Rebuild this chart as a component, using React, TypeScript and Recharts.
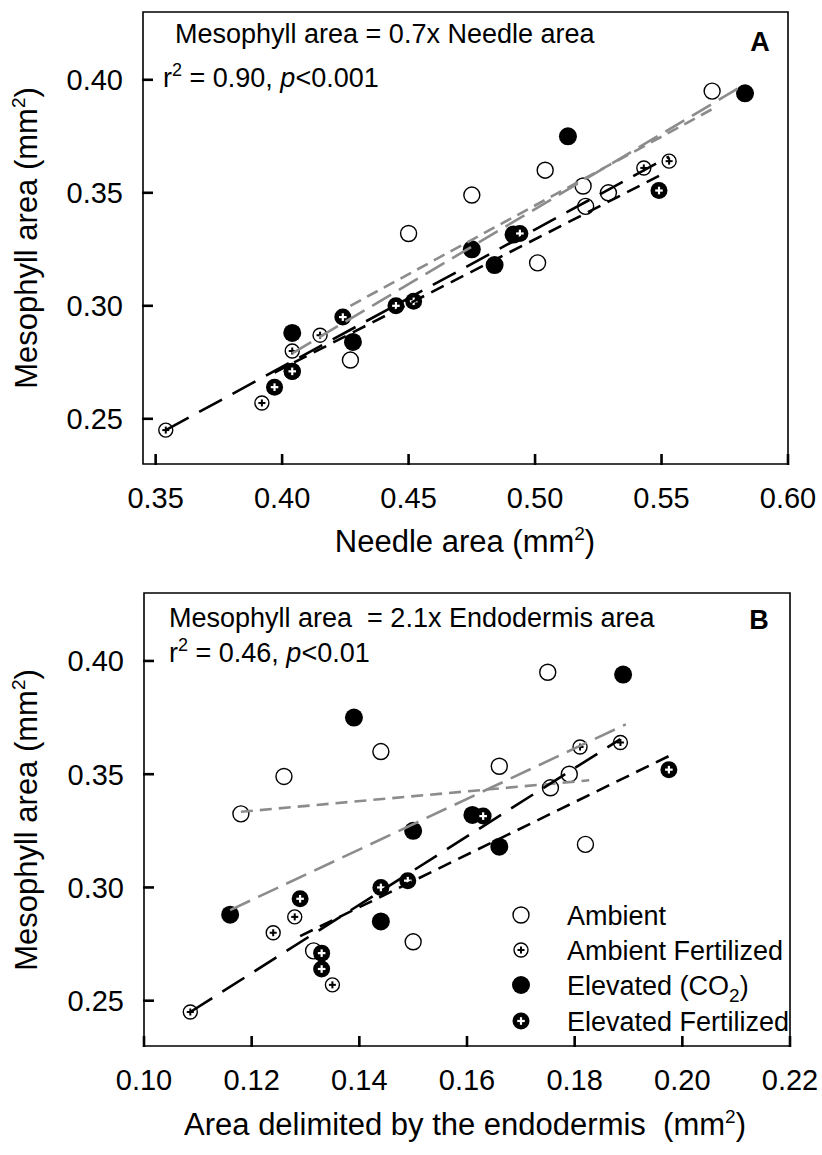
import React from 'react';
import { ScatterChart, Scatter, XAxis, YAxis, ReferenceArea } from 'recharts';

const FONT = '"Liberation Sans", Arial, Helvetica, sans-serif';
const GRAY = '#8c8c8c';

// ---------- Panel A: needle area (x) vs mesophyll area (y), mm2 ----------
const ambientA = [
  { x: 0.570, y: 0.395 }, { x: 0.504, y: 0.360 }, { x: 0.475, y: 0.349 }, { x: 0.519, y: 0.353 },
  { x: 0.529, y: 0.350 }, { x: 0.520, y: 0.344 }, { x: 0.450, y: 0.332 }, { x: 0.501, y: 0.319 },
  { x: 0.427, y: 0.276 }, { x: 0.404, y: 0.271 },
];
const ambFertA = [
  { x: 0.553, y: 0.364 }, { x: 0.543, y: 0.361 }, { x: 0.415, y: 0.287 }, { x: 0.404, y: 0.280 },
  { x: 0.392, y: 0.257 }, { x: 0.354, y: 0.245 },
];
const elevA = [
  { x: 0.583, y: 0.394 }, { x: 0.513, y: 0.375 }, { x: 0.475, y: 0.325 }, { x: 0.484, y: 0.318 },
  { x: 0.404, y: 0.288 }, { x: 0.428, y: 0.284 }, { x: 0.4915, y: 0.3315 },
];
const elevFertA = [
  { x: 0.549, y: 0.351 }, { x: 0.494, y: 0.332 }, { x: 0.452, y: 0.302 }, { x: 0.445, y: 0.300 },
  { x: 0.424, y: 0.295 }, { x: 0.404, y: 0.271 }, { x: 0.397, y: 0.264 },
];
const ambLineA = [{ x: 0.427, y: 0.300 }, { x: 0.570, y: 0.387 }];
const elevLineA = [{ x: 0.404, y: 0.279 }, { x: 0.583, y: 0.398 }];
const ambFertLineA = [{ x: 0.354, y: 0.245 }, { x: 0.553, y: 0.366 }];
const elevFertLineA = [{ x: 0.397, y: 0.2705 }, { x: 0.549, y: 0.3575 }];

// ---------- Panel B: endodermis area (x) vs mesophyll area (y), mm2 ----------
const ambientB = [
  { x: 0.175, y: 0.395 }, { x: 0.144, y: 0.360 }, { x: 0.126, y: 0.349 }, { x: 0.118, y: 0.3325 },
  { x: 0.166, y: 0.3535 }, { x: 0.179, y: 0.350 }, { x: 0.1755, y: 0.344 }, { x: 0.182, y: 0.319 },
  { x: 0.150, y: 0.276 }, { x: 0.1315, y: 0.272 },
];
const ambFertB = [
  { x: 0.1885, y: 0.364 }, { x: 0.181, y: 0.362 }, { x: 0.128, y: 0.287 }, { x: 0.124, y: 0.280 },
  { x: 0.135, y: 0.257 }, { x: 0.1086, y: 0.245 },
];
const elevB = [
  { x: 0.139, y: 0.375 }, { x: 0.189, y: 0.394 }, { x: 0.150, y: 0.325 }, { x: 0.161, y: 0.332 },
  { x: 0.166, y: 0.318 }, { x: 0.144, y: 0.285 }, { x: 0.116, y: 0.288 },
];
const elevFertB = [
  { x: 0.1975, y: 0.352 }, { x: 0.163, y: 0.3315 }, { x: 0.149, y: 0.303 }, { x: 0.144, y: 0.300 },
  { x: 0.129, y: 0.295 }, { x: 0.133, y: 0.271 }, { x: 0.133, y: 0.264 },
];
const ambLineB = [{ x: 0.118, y: 0.3334 }, { x: 0.1827, y: 0.3473 }];
const elevLineB = [{ x: 0.116, y: 0.290 }, { x: 0.1895, y: 0.372 }];
const ambFertLineB = [{ x: 0.1086, y: 0.245 }, { x: 0.1885, y: 0.3655 }];
const elevFertLineB = [{ x: 0.129, y: 0.2785 }, { x: 0.1975, y: 0.358 }];

// ---------- axes ----------
const xDomainA = [0.345, 0.6];
const xDomainB = [0.1, 0.22];
const yDomain = [0.23, 0.43];
const xTicksA = [0.35, 0.4, 0.45, 0.5, 0.55, 0.6];
const xTicksB = [0.1, 0.12, 0.14, 0.16, 0.18, 0.2, 0.22];
const yTicks = [0.25, 0.3, 0.35, 0.4];
const legendLabels = ['Ambient', 'Ambient Fertilized', 'Elevated (CO', 'Elevated Fertilized'];

// ---------- marker shapes ----------
const AmbientDot = (p: any) => (
  <circle cx={p.cx} cy={p.cy} r={8} fill="#fff" stroke="#000" strokeWidth={1.4} />
);
const AmbFertDot = (p: any) => (
  <g>
    <circle cx={p.cx} cy={p.cy} r={7} fill="#fff" stroke="#000" strokeWidth={1.4} />
    <line x1={p.cx - 3.5} x2={p.cx + 3.5} y1={p.cy} y2={p.cy} stroke="#000" strokeWidth={2} />
    <line x1={p.cx} x2={p.cx} y1={p.cy - 3.5} y2={p.cy + 3.5} stroke="#000" strokeWidth={2} />
  </g>
);
const ElevDot = (p: any) => <circle cx={p.cx} cy={p.cy} r={9} fill="#000" />;
const ElevFertDot = (p: any) => (
  <g>
    <circle cx={p.cx} cy={p.cy} r={8.5} fill="#000" />
    <line x1={p.cx - 3.8} x2={p.cx + 3.8} y1={p.cy} y2={p.cy} stroke="#fff" strokeWidth={2.2} />
    <line x1={p.cx} x2={p.cx} y1={p.cy - 3.8} y2={p.cy + 3.8} stroke="#fff" strokeWidth={2.2} />
  </g>
);
const NoDot = () => <g />;
const legendShapes = [AmbientDot, AmbFertDot, ElevDot, ElevFertDot];

// ---------- ticks ----------
const XTick = (props: any) => {
  const { x, y, payload } = props;
  return (
    <g>
      <line x1={x} x2={x} y1={y + 1} y2={y - 10} stroke="#000" strokeWidth={2.6} />
      <text x={x} y={y + 44} textAnchor="middle" fontSize={29} fontFamily={FONT} fill="#000">
        {Number(payload.value).toFixed(2)}
      </text>
    </g>
  );
};
const YTick = (props: any) => {
  const { x, y, payload } = props;
  return (
    <g>
      <line x1={x - 1} x2={x + 10} y1={y} y2={y} stroke="#000" strokeWidth={2.6} />
      <text x={x - 20} y={y + 10.5} textAnchor="end" fontSize={29} fontFamily={FONT} fill="#000">
        {Number(payload.value).toFixed(2)}
      </text>
    </g>
  );
};

const lineStyle = (stroke: string, dash: string) => ({
  stroke,
  strokeWidth: 2.6,
  strokeDasharray: dash,
  strokeLinecap: 'butt' as const,
});

type PanelProps = {
  xDomain: number[];
  xTicks: number[];
  amb: any[]; ambF: any[]; elev: any[]; elevF: any[];
  ambL: any[]; elevL: any[]; ambFL: any[]; elevFL: any[];
  height: number; top: number; left: number; right: number; xAxisH: number;
};

const Panel = (p: PanelProps) => (
  <ScatterChart
    width={822}
    height={p.height}
    margin={{ top: p.top, right: p.right, bottom: 0, left: 0 }}
  >
    <XAxis
      type="number"
      dataKey="x"
      domain={p.xDomain}
      ticks={p.xTicks}
      interval={0}
      allowDataOverflow
      axisLine={false}
      tickLine={false}
      tickSize={0}
      tickMargin={0}
      height={p.xAxisH}
      tick={<XTick />}
    />
    <YAxis
      type="number"
      dataKey="y"
      domain={yDomain}
      ticks={yTicks}
      interval={0}
      allowDataOverflow
      axisLine={false}
      tickLine={false}
      tickSize={0}
      tickMargin={0}
      width={p.left}
      tick={<YTick />}
    />
    <ReferenceArea
      x1={p.xDomain[0]}
      x2={p.xDomain[1]}
      y1={yDomain[0]}
      y2={yDomain[1]}
      fill="none"
      fillOpacity={0}
      stroke="#000"
      strokeWidth={1.6}
      ifOverflow="visible"
    />
    <Scatter data={p.amb} shape={AmbientDot} isAnimationActive={false} />
    <Scatter data={p.ambF} shape={AmbFertDot} isAnimationActive={false} />
    <Scatter data={p.elev} shape={ElevDot} isAnimationActive={false} />
    <Scatter data={p.elevF} shape={ElevFertDot} isAnimationActive={false} />
    <Scatter data={p.ambL} shape={NoDot} line={lineStyle(GRAY, '12 7')} isAnimationActive={false} />
    <Scatter data={p.elevL} shape={NoDot} line={lineStyle(GRAY, '22 9')} isAnimationActive={false} />
    <Scatter data={p.ambFL} shape={NoDot} line={lineStyle('#000', '26 12')} isAnimationActive={false} />
    <Scatter data={p.elevFL} shape={NoDot} line={lineStyle('#000', '14 8')} isAnimationActive={false} />
  </ScatterChart>
);

export default function App() {
  const txt = { fontFamily: FONT, fill: '#000' } as const;
  return (
    <div style={{ position: 'absolute', left: 0, top: 0, width: 822, height: 1155, background: '#fff' }}>
      <div style={{ position: 'absolute', left: 0, top: 0 }}>
        <Panel
          xDomain={xDomainA} xTicks={xTicksA}
          amb={ambientA} ambF={ambFertA} elev={elevA} elevF={elevFertA}
          ambL={ambLineA} elevL={elevLineA} ambFL={ambFertLineA} elevFL={elevFertLineA}
          height={580} top={12} left={143} right={34} xAxisH={116}
        />
      </div>
      <div style={{ position: 'absolute', left: 0, top: 580 }}>
        <Panel
          xDomain={xDomainB} xTicks={xTicksB}
          amb={ambientB} ambF={ambFertB} elev={elevB} elevF={elevFertB}
          ambL={ambLineB} elevL={elevLineB} ambFL={ambFertLineB} elevFL={elevFertLineB}
          height={575} top={13} left={144} right={32} xAxisH={109}
        />
      </div>
      <svg
        width={822}
        height={1155}
        style={{ position: 'absolute', left: 0, top: 0, pointerEvents: 'none' }}
      >
        {/* Panel A annotations */}
        <text x={175} y={43} fontSize={27} {...txt} style={{ whiteSpace: 'pre' }}>
          Mesophyll area = 0.7x Needle area
        </text>
        <text x={163} y={87} fontSize={27} {...txt}>
          r<tspan dy={-11} fontSize={18}>2</tspan>
          <tspan dy={11}>{' = 0.90, '}</tspan>
          <tspan fontStyle="italic">p</tspan>
          <tspan>&lt;0.001</tspan>
        </text>
        <text x={760} y={51} fontSize={27} fontWeight="bold" textAnchor="middle" {...txt}>A</text>
        <text x={465} y={552} fontSize={31} textAnchor="middle" {...txt}>
          Needle area (mm<tspan dy={-12} fontSize={19}>2</tspan>
          <tspan dy={12}>)</tspan>
        </text>
        <text x={37} y={238} fontSize={31} textAnchor="middle" transform="rotate(-90 37 238)" {...txt}>
          Mesophyll area (mm<tspan dy={-12} fontSize={19}>2</tspan>
          <tspan dy={12}>)</tspan>
        </text>

        {/* Panel B annotations */}
        <text x={169} y={627} fontSize={27} {...txt} style={{ whiteSpace: 'pre' }}>
          {'Mesophyll area  = 2.1x Endodermis area'}
        </text>
        <text x={169} y={662} fontSize={27} {...txt}>
          r<tspan dy={-11} fontSize={18}>2</tspan>
          <tspan dy={11}>{' = 0.46, '}</tspan>
          <tspan fontStyle="italic">p</tspan>
          <tspan>&lt;0.01</tspan>
        </text>
        <text x={759} y={629} fontSize={27} fontWeight="bold" textAnchor="middle" {...txt}>B</text>
        <text x={465} y={1135} fontSize={31} textAnchor="middle" {...txt} style={{ whiteSpace: 'pre' }}>
          {'Area delimited by the endodermis  (mm'}
          <tspan dy={-12} fontSize={19}>2</tspan>
          <tspan dy={12}>)</tspan>
        </text>
        <text x={37} y={820} fontSize={31} textAnchor="middle" transform="rotate(-90 37 820)" {...txt}>
          Mesophyll area (mm<tspan dy={-12} fontSize={19}>2</tspan>
          <tspan dy={12}>)</tspan>
        </text>

        {/* Legend */}
        {legendLabels.map((label, i) => {
          const cy = [915, 950, 985, 1021][i];
          const Shape = legendShapes[i];
          return (
            <g key={label}>
              <Shape cx={521} cy={cy} />
              <text x={567} y={cy + 10} fontSize={27} {...txt}>
                {label}
                {i === 2 ? <tspan dy={7} fontSize={19}>2</tspan> : null}
                {i === 2 ? <tspan dy={-7}>)</tspan> : null}
              </text>
            </g>
          );
        })}
      </svg>
    </div>
  );
}
